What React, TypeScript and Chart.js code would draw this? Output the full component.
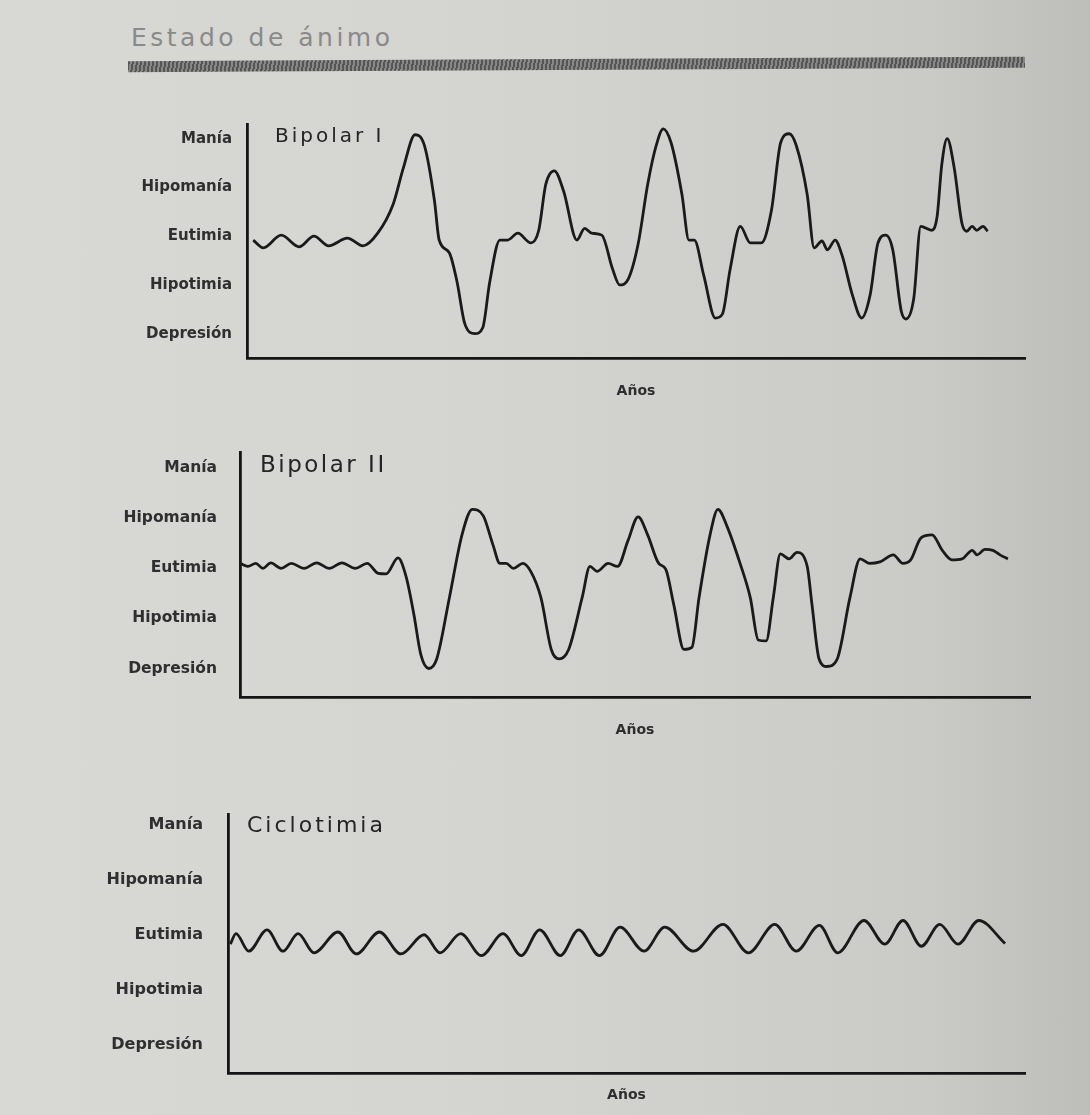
import React, { useEffect, useRef } from "react";
import { Chart, registerables } from "chart.js";

Chart.register(...registerables);

// ---------- data ----------
const pageTitle = "Estado de ánimo";
const xAxisTitle = "Años";
const moodLabels = ["Depresión", "Hipotimia", "Eutimia", "Hipomanía", "Manía"];
const moodLevels = [0, 1, 2, 3, 4];

const bipolar1Title = "Bipolar I";
const bipolar1Time = [0.8, 2.1, 4.4, 6.7, 8.6, 10.5, 12.9, 14.9, 16.8, 18.8, 20.1, 21.6, 22.8, 24.1, 24.7, 26.0, 27.0, 28.0, 29.3, 30.3, 31.2, 32.5, 33.5, 34.8, 36.5, 37.5, 38.4, 39.5, 40.7, 42.4, 43.4, 44.3, 45.6, 47.0, 47.9, 49.0, 50.3, 51.5, 52.6, 53.5, 54.5, 55.9, 56.8, 57.5, 58.7, 60.2, 61.1, 62.1, 63.4, 64.7, 66.1, 67.4, 68.6, 69.7, 70.6, 72.0, 72.9, 73.9, 74.6, 75.6, 76.5, 77.8, 79.0, 80.1, 81.1, 82.1, 83.0, 84.1, 84.7, 85.7, 86.6, 88.0, 88.7, 89.3, 90.0, 90.9, 91.9, 92.5, 93.2, 93.8, 94.6, 95.2];
const bipolar1Mood = [1.92, 1.76, 2.02, 1.78, 2.0, 1.8, 1.96, 1.8, 2.06, 2.66, 3.4, 4.08, 3.86, 2.72, 1.92, 1.66, 1.06, 0.2, 0.0, 0.12, 1.06, 1.92, 1.92, 2.06, 1.86, 2.12, 3.06, 3.34, 2.92, 1.92, 2.16, 2.06, 2.02, 1.32, 1.0, 1.12, 1.86, 3.06, 3.86, 4.2, 3.92, 2.86, 1.92, 1.92, 1.2, 0.32, 0.4, 1.32, 2.2, 1.86, 1.86, 2.52, 3.92, 4.1, 3.86, 2.86, 1.76, 1.9, 1.72, 1.92, 1.6, 0.8, 0.32, 0.8, 1.86, 2.02, 1.72, 0.46, 0.3, 0.72, 2.2, 2.12, 2.4, 3.46, 4.0, 3.4, 2.26, 2.1, 2.2, 2.12, 2.2, 2.1];

const bipolar2Title = "Bipolar II";
const bipolar2Time = [0, 1.0, 2.0, 2.9, 3.9, 5.2, 6.5, 8.1, 9.7, 11.3, 12.9, 14.6, 16.1, 17.5, 18.5, 20.0, 21.0, 22.0, 22.9, 23.9, 24.9, 26.5, 28.1, 29.4, 30.8, 32.0, 32.9, 33.7, 34.6, 35.8, 36.8, 38.1, 39.4, 40.4, 41.6, 43.3, 44.3, 45.2, 46.6, 47.8, 49.1, 50.4, 51.6, 53.0, 53.9, 54.9, 56.2, 57.2, 58.1, 59.5, 60.5, 61.6, 63.3, 64.6, 65.6, 66.6, 67.5, 68.4, 69.5, 70.5, 71.8, 72.4, 73.3, 74.3, 75.6, 77.2, 78.5, 79.7, 81.0, 82.7, 83.9, 84.9, 86.2, 87.6, 88.9, 90.1, 91.4, 92.7, 93.3, 94.3, 95.3, 96.2, 97.2];
const bipolar2Mood = [2.10, 2.04, 2.10, 2.0, 2.11, 2.0, 2.10, 2.0, 2.11, 2.0, 2.11, 2.0, 2.10, 1.90, 1.89, 2.21, 1.85, 1.09, 0.27, 0.0, 0.19, 1.41, 2.67, 3.18, 3.05, 2.48, 2.10, 2.10, 2.0, 2.10, 1.94, 1.41, 0.38, 0.19, 0.38, 1.41, 2.04, 1.94, 2.10, 2.04, 2.55, 3.03, 2.67, 2.10, 1.98, 1.28, 0.38, 0.42, 1.41, 2.67, 3.18, 2.86, 2.10, 1.41, 0.57, 0.55, 1.41, 2.29, 2.19, 2.32, 2.04, 1.28, 0.19, 0.04, 0.19, 1.41, 2.19, 2.10, 2.13, 2.27, 2.10, 2.17, 2.61, 2.67, 2.36, 2.17, 2.19, 2.36, 2.27, 2.38, 2.36, 2.27, 2.19];

const cyclothymiaTitle = "Ciclotimia";
const cyclothymiaTime = [0.3, 1.0, 2.6, 4.9, 6.9, 8.8, 10.8, 13.8, 16.1, 19.0, 21.7, 24.6, 26.6, 29.2, 31.8, 34.5, 36.8, 39.1, 41.7, 44.0, 46.6, 49.2, 52.2, 54.8, 58.4, 62.1, 65.3, 68.6, 71.3, 74.2, 76.5, 79.8, 82.4, 84.7, 87.0, 89.3, 91.6, 94.2, 97.5];
const cyclothymiaMood = [1.83, 2.02, 1.70, 2.09, 1.70, 2.02, 1.67, 2.05, 1.65, 2.05, 1.65, 2.0, 1.67, 2.02, 1.62, 2.02, 1.62, 2.09, 1.62, 2.09, 1.62, 2.14, 1.70, 2.14, 1.70, 2.19, 1.67, 2.19, 1.70, 2.17, 1.67, 2.26, 1.83, 2.26, 1.79, 2.19, 1.83, 2.26, 1.84];

// ---------- helpers ----------
const panelTitlePlugin = {
  id: "panelTitle",
  afterDraw(chart: any, _args: any, opts: any) {
    const { ctx, chartArea } = chart;
    ctx.save();
    ctx.font = opts.font;
    ctx.fillStyle = opts.color;
    ctx.textBaseline = "middle";
    ctx.textAlign = "left";
    if ("letterSpacing" in ctx) (ctx as any).letterSpacing = opts.letterSpacing;
    ctx.fillText(opts.text, chartArea.left + opts.dx, chartArea.top + opts.dy);
    ctx.restore();
  },
};

type PanelProps = {
  title: string;
  time: number[];
  mood: number[];
  left: number;
  top: number;
  width: number;
  height: number;
  yAxisWidth: number;
  xAxisHeight: number;
  padTop: number;
  padRight: number;
  yMin: number;
  yMax: number;
  tickPadding: number;
  tickFontSize: number;
  xTitlePadBottom: number;
  titleFont: string;
  titleSpacing: string;
  titleDx: number;
  titleDy: number;
};

function MoodPanel(p: PanelProps) {
  const ref = useRef<HTMLCanvasElement | null>(null);
  useEffect(() => {
    if (!ref.current) return;
    const points = p.time.map((t, i) => ({ x: t, y: p.mood[i] }));
    const chart = new Chart(ref.current, {
      type: "line",
      data: {
        datasets: [
          {
            label: p.title,
            data: points,
            borderColor: "#1a1a1a",
            borderWidth: 2.8,
            pointRadius: 0,
            cubicInterpolationMode: "monotone",
            fill: false,
          },
        ],
      },
      options: {
        responsive: false,
        animation: false,
        layout: { padding: { top: p.padTop, right: p.padRight, left: 0, bottom: 0 } },
        plugins: {
          legend: { display: false },
          tooltip: { enabled: false },
          panelTitle: {
            text: p.title,
            font: p.titleFont,
            color: "#242424",
            letterSpacing: p.titleSpacing,
            dx: p.titleDx,
            dy: p.titleDy,
          },
        } as any,
        scales: {
          x: {
            type: "linear",
            min: 0,
            max: 100,
            grid: { display: false, drawTicks: false },
            border: { display: true, color: "#151515", width: 2.8 },
            ticks: { display: false },
            title: {
              display: true,
              text: xAxisTitle,
              color: "#2e2e2e",
              font: { family: "DejaVu Sans", size: 14, weight: "bold" },
              padding: { top: 0, bottom: p.xTitlePadBottom },
            },
            afterFit: (scale: any) => {
              scale.height = p.xAxisHeight;
            },
          },
          y: {
            type: "linear",
            min: p.yMin,
            max: p.yMax,
            grid: { display: false, drawTicks: false },
            border: { display: true, color: "#151515", width: 2.8 },
            afterBuildTicks: (scale: any) => {
              scale.ticks = moodLevels.map((v) => ({ value: v }));
            },
            ticks: {
              padding: p.tickPadding,
              color: "#2f2f2f",
              font: { family: "DejaVu Sans", size: p.tickFontSize, weight: "bold" },
              callback: (v: any) => moodLabels[Math.round(Number(v))] ?? "",
            },
            afterFit: (scale: any) => {
              scale.width = p.yAxisWidth;
            },
          },
        },
      },
      plugins: [panelTitlePlugin as any],
    });
    return () => chart.destroy();
  }, []);
  return (
    <canvas
      ref={ref}
      width={p.width}
      height={p.height}
      style={{ position: "absolute", left: p.left, top: p.top, width: p.width, height: p.height, display: "block" }}
    />
  );
}

export default function App() {
  return (
    <div
      style={{
        position: "absolute",
        left: 0,
        top: 0,
        width: 1090,
        height: 1115,
        overflow: "hidden",
        background: "linear-gradient(90deg, #d8d8d4 0%, #d4d4d0 45%, #cacac6 85%, #bdbdb9 100%)",
      }}
    >
      <div
        style={{
          position: "absolute",
          left: 131,
          top: 22,
          fontFamily: "DejaVu Sans",
          fontSize: 25,
          lineHeight: "32px",
          letterSpacing: 3.5,
          color: "#8a8a8a",
          whiteSpace: "nowrap",
        }}
      >
        {pageTitle}
      </div>
      <div
        style={{
          position: "absolute",
          left: 128,
          top: 59,
          width: 897,
          height: 11,
          transform: "rotate(-0.28deg)",
          background:
            "repeating-linear-gradient(100deg, #555555 0px, #555555 2px, #888888 2px, #888888 4px)",
        }}
      />
      <MoodPanel
        title={bipolar1Title}
        time={bipolar1Time}
        mood={bipolar1Mood}
        left={100}
        top={100}
        width={940}
        height={310}
        yAxisWidth={147}
        xAxisHeight={52}
        padTop={18}
        padRight={15}
        yMin={-0.5}
        yMax={4.3}
        tickPadding={15}
        tickFontSize={15}
        xTitlePadBottom={10}
        titleFont="20px 'DejaVu Sans'"
        titleSpacing="3px"
        titleDx={28}
        titleDy={13}
      />
      <MoodPanel
        title={bipolar2Title}
        time={bipolar2Time}
        mood={bipolar2Mood}
        left={90}
        top={420}
        width={960}
        height={320}
        yAxisWidth={150}
        xAxisHeight={43}
        padTop={20}
        padRight={20}
        yMin={-0.57}
        yMax={4.32}
        tickPadding={23}
        tickFontSize={15.5}
        xTitlePadBottom={1}
        titleFont="23px 'DejaVu Sans'"
        titleSpacing="2.5px"
        titleDx={20}
        titleDy={14}
      />
      <MoodPanel
        title={cyclothymiaTitle}
        time={cyclothymiaTime}
        mood={cyclothymiaMood}
        left={80}
        top={780}
        width={960}
        height={330}
        yAxisWidth={148}
        xAxisHeight={37}
        padTop={22}
        padRight={15}
        yMin={-0.52}
        yMax={4.19}
        tickPadding={25}
        tickFontSize={16}
        xTitlePadBottom={6}
        titleFont="22px 'DejaVu Sans'"
        titleSpacing="3px"
        titleDx={19}
        titleDy={12}
      />
    </div>
  );
}
